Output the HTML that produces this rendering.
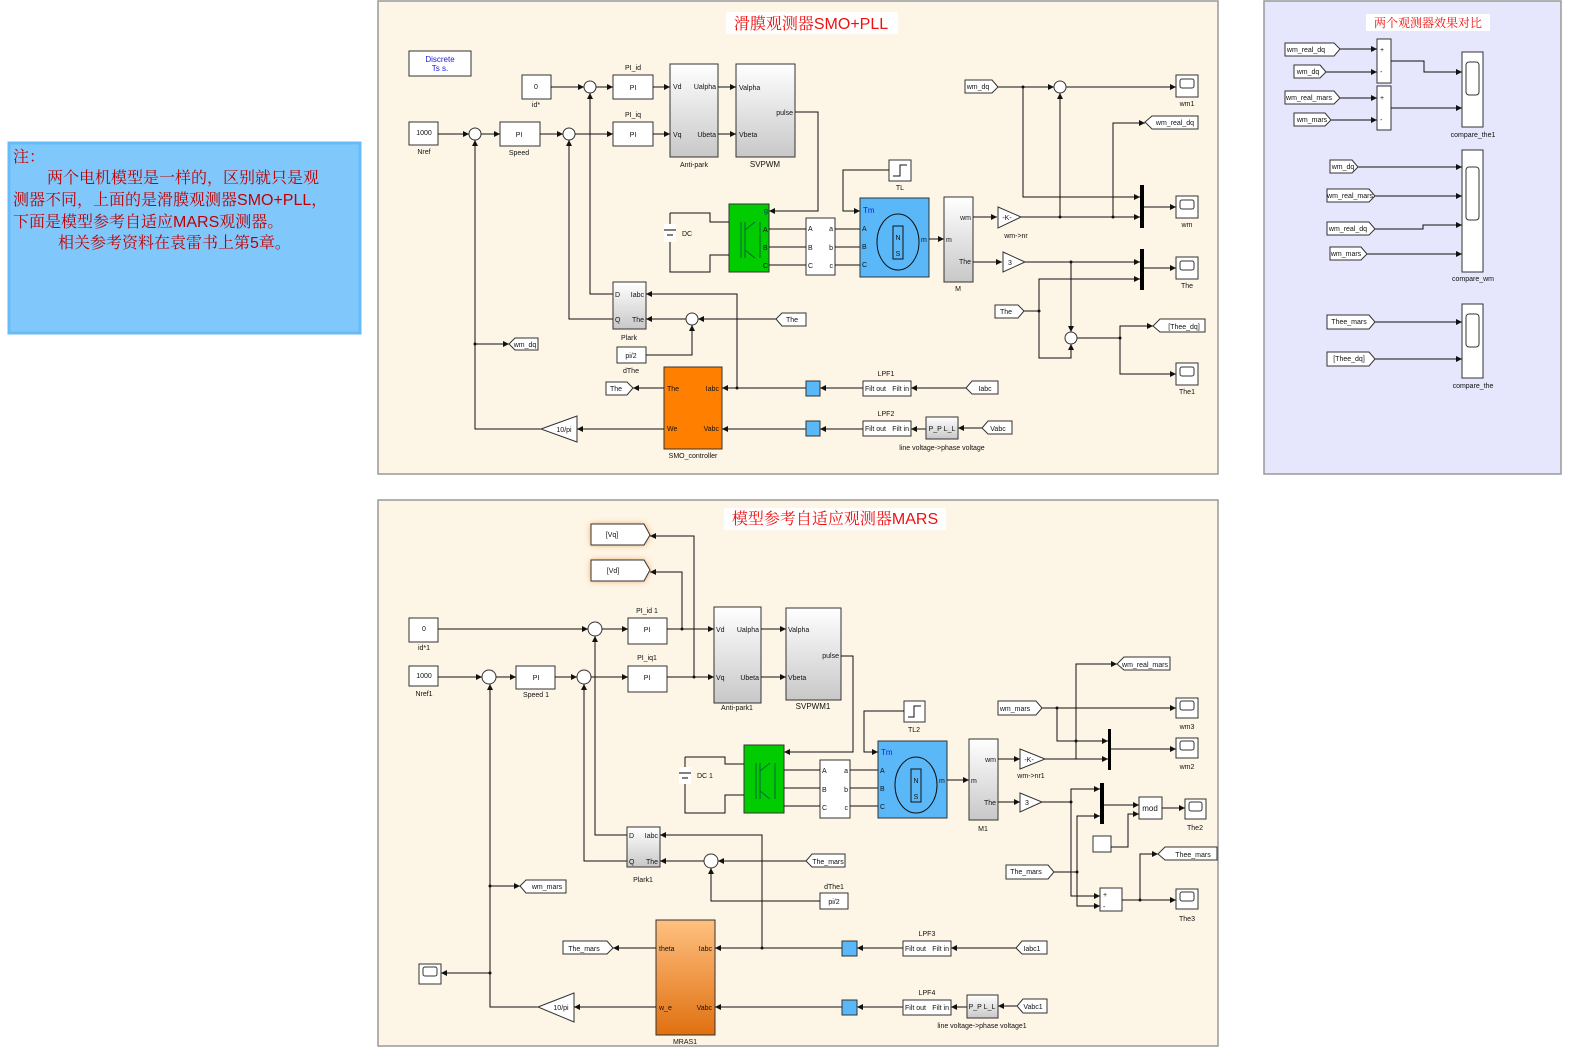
<!DOCTYPE html>
<html><head><meta charset="utf-8">
<style>
html,body{margin:0;padding:0;background:#fff;}
svg{display:block;font-family:"Liberation Sans","Noto Sans CJK SC",sans-serif;}
.b{fill:#fff;stroke:#333;stroke-width:1}
.l{fill:none;stroke:#111;stroke-width:1}
.t{font-size:7px;fill:#111}
.s{font-size:8px;fill:#111}
.c{text-anchor:middle}
.tag{fill:#fff;stroke:#333;stroke-width:1}
</style></head><body>
<svg width="1575" height="1057" viewBox="0 0 1575 1057" xmlns="http://www.w3.org/2000/svg">
<defs>
<marker id="a" markerWidth="6" markerHeight="6" refX="6" refY="3" orient="auto" markerUnits="userSpaceOnUse"><path d="M0,0 L6,3 L0,6 z" fill="#111"/></marker>
<linearGradient id="g" x1="0" y1="0" x2="0" y2="1"><stop offset="0" stop-color="#fff"/><stop offset="1" stop-color="#c8c8c8"/></linearGradient>
<linearGradient id="o" x1="0" y1="0" x2="0" y2="1"><stop offset="0" stop-color="#ffc080"/><stop offset="1" stop-color="#e07010"/></linearGradient>
<filter id="glow" x="-30%" y="-50%" width="160%" height="200%"><feGaussianBlur stdDeviation="3"/></filter>
</defs>

<!-- Note -->
<rect x="9" y="143" width="351" height="190" fill="#80c8fc" stroke="#66bbf8" stroke-width="3"/>
<g font-family="Liberation Serif,'Noto Serif CJK SC',serif" font-size="16" fill="#c00000">
<text x="13" y="162">注：</text>
<text x="47" y="183">两个电机模型是一样的，区别就只是观</text>
<text x="13" y="205">测器不同，上面的是滑膜观测器<tspan font-family="Liberation Sans">SMO+PLL</tspan>，</text>
<text x="13" y="227">下面是模型参考自适应<tspan font-family="Liberation Sans">MARS</tspan>观测器。</text>
<text x="58" y="248">相关参考资料在袁雷书上第<tspan font-family="Liberation Sans">5</tspan>章。</text>
</g>

<!-- TOP PANEL -->
<rect x="378" y="1" width="840" height="473" fill="#fdf5e6" stroke="#999" stroke-width="1.5"/>
<rect x="726" y="12" width="172" height="22" fill="#fff"/>
<text x="811" y="29" font-size="16" fill="#f01010" class="c" font-family="Liberation Serif,'Noto Serif CJK SC',serif">滑膜观测器<tspan font-family="Liberation Sans">SMO+PLL</tspan></text>

<rect x="409" y="51" width="62" height="25" class="b"/>
<text x="440" y="62" class="s c" fill="#2020e0" style="fill:#2020e0">Discrete</text>
<text x="440" y="71" class="s c" style="fill:#2020e0">Ts s.</text>

<rect x="522" y="75" width="29" height="24" class="b"/><text x="536" y="89" class="t c">0</text><text x="536" y="107" class="t c">id*</text>
<rect x="409" y="122" width="29" height="23" class="b"/><text x="424" y="135" class="t c">1000</text><text x="424" y="154" class="t c">Nref</text>
<circle cx="475" cy="134" r="6" class="b"/><circle cx="569" cy="134" r="6" class="b"/><circle cx="590" cy="87" r="6" class="b"/>
<rect x="500" y="122" width="40" height="24" class="b"/><text x="519" y="137" class="t c">PI</text><text x="519" y="155" class="t c">Speed</text>
<rect x="613" y="75" width="40" height="24" class="b"/><text x="633" y="90" class="t c">PI</text><text x="633" y="70" class="t c">PI_id</text>
<rect x="613" y="122" width="40" height="24" class="b"/><text x="633" y="137" class="t c">PI</text><text x="633" y="117" class="t c">PI_iq</text>
<rect x="670" y="64" width="48" height="93" fill="url(#g)" stroke="#333"/>
<text x="673" y="89" class="t">Vd</text><text x="673" y="137" class="t">Vq</text><text x="716" y="89" class="t" text-anchor="end">Ualpha</text><text x="716" y="137" class="t" text-anchor="end">Ubeta</text>
<text x="694" y="167" class="t c">Anti-park</text>
<rect x="736" y="64" width="59" height="93" fill="url(#g)" stroke="#333"/>
<text x="739" y="90" class="t">Valpha</text><text x="739" y="137" class="t">Vbeta</text><text x="793" y="115" class="t" text-anchor="end">pulse</text>
<text x="765" y="167" class="s c">SVPWM</text>
<g class="l">
<path d="M438,134 H469" marker-end="url(#a)"/><path d="M481,134 H500" marker-end="url(#a)"/>
<path d="M540,134 H563" marker-end="url(#a)"/><path d="M575,134 H613" marker-end="url(#a)"/>
<path d="M551,87 H584" marker-end="url(#a)"/><path d="M596,87 H613" marker-end="url(#a)"/>
<path d="M653,87 H670" marker-end="url(#a)"/><path d="M653,134 H670" marker-end="url(#a)"/>
<path d="M718,87 H736" marker-end="url(#a)"/><path d="M718,134 H736" marker-end="url(#a)"/>
<path d="M795,112 H818 V211 H769" marker-end="url(#a)"/>
<path d="M613,294 H590 V93" marker-end="url(#a)"/>
<path d="M613,319 H569 V140" marker-end="url(#a)"/>
<path d="M541,429 H475 V140" marker-end="url(#a)"/>
<path d="M475,344 H509" marker-end="url(#a)"/>
</g>
<polygon points="509,344 515,338 538,338 538,350 515,350" class="tag"/><text x="525" y="347" class="t c">wm_dq</text>

<!-- inverter & DC -->
<rect x="729" y="204" width="40" height="68" fill="#00cc00" stroke="#333"/>
<path d="M741,222 V258 M745,222 V258 M745,230 L755,222 M745,250 L755,258 M760,222 V258" stroke="#063" fill="none"/>
<text x="764" y="213" class="t" style="fill:#036">g</text><text x="763" y="232" class="t">A</text><text x="763" y="250" class="t">B</text><text x="763" y="268" class="t">C</text>
<path d="M670,213 V225 M670,241 V272 H710 V255 H729 M670,213 H710 V222 H729" class="l"/>
<rect x="664" y="224" width="12" height="18" fill="#fff"/><path d="M664,230 H676 M667,235 H673" stroke="#000"/>
<text x="682" y="236" class="t">DC</text>
<rect x="806" y="218" width="29" height="57" class="b"/>
<text x="808" y="231" class="t">A</text><text x="808" y="250" class="t">B</text><text x="808" y="268" class="t">C</text>
<text x="833" y="231" class="t" text-anchor="end">a</text><text x="833" y="250" class="t" text-anchor="end">b</text><text x="833" y="268" class="t" text-anchor="end">c</text>
<path d="M769,229 H806 M769,247 H806 M769,265 H806 M835,229 H860 M835,247 H860 M835,265 H860" class="l"/>
<rect x="860" y="198" width="69" height="79" fill="#5ab8f8" stroke="#333"/>
<ellipse cx="898" cy="242" rx="21" ry="28" fill="#5ab8f8" stroke="#111"/>
<rect x="893" y="226" width="10" height="33" fill="#5ab8f8" stroke="#111"/><text x="898" y="240" class="t c">N</text><text x="898" y="256" class="t c">S</text>
<text x="863" y="213" font-size="8" fill="#1020e0">Tm</text><text x="862" y="231" class="t">A</text><text x="862" y="249" class="t">B</text><text x="862" y="267" class="t">C</text><text x="921" y="242" class="t">m</text>
<rect x="889" y="160" width="22" height="21" class="b"/><path d="M893,176 H900 V165 H907" class="l"/><text x="900" y="190" class="t c">TL</text>
<path d="M889,170 H843 V211 H860" class="l" marker-end="url(#a)"/>
<path d="M929,239 H944" class="l" marker-end="url(#a)"/>
<rect x="944" y="197" width="29" height="85" fill="url(#g)" stroke="#333"/>
<text x="946" y="242" class="t">m</text><text x="971" y="220" class="t" text-anchor="end">wm</text><text x="971" y="264" class="t" text-anchor="end">The</text><text x="958" y="291" class="t c">M</text>
<polygon points="998,207 1021,217 998,228" class="b"/><text x="1007" y="220" class="t c">-K-</text><text x="1016" y="238" class="t c">wm-&gt;nr</text>
<polygon points="1003,252 1025,262 1003,272" class="b"/><text x="1010" y="265" class="t c">3</text>
<rect x="1140" y="185" width="4" height="43" fill="#000"/><rect x="1140" y="249" width="4" height="41" fill="#000"/>
<g class="l">
<path d="M973,217 H997" marker-end="url(#a)"/><path d="M973,262 H1002" marker-end="url(#a)"/>
<path d="M1021,217 H1140" marker-end="url(#a)"/>
<path d="M998,87 H1054" marker-end="url(#a)"/><path d="M1066,87 H1176" marker-end="url(#a)"/>
<path d="M1023,87 V197 H1140" marker-end="url(#a)"/>
<path d="M1060,217 V93" marker-end="url(#a)"/>
<path d="M1113,217 V123 H1145" marker-end="url(#a)"/>
<path d="M1144,207 H1176" marker-end="url(#a)"/>
<path d="M1025,262 H1140" marker-end="url(#a)"/>
<path d="M1071,262 V332" marker-end="url(#a)"/>
<path d="M1024,311 H1039 V279 H1140" marker-end="url(#a)"/>
<path d="M1039,311 V358 H1071 V344" marker-end="url(#a)"/>
<path d="M1144,268 H1176" marker-end="url(#a)"/>
<path d="M1077,338 H1120 V326 H1153" marker-end="url(#a)"/>
<path d="M1120,338 V374 H1176" marker-end="url(#a)"/>
</g>
<g fill="#111"><circle cx="1023" cy="87" r="1.5"/><circle cx="1060" cy="217" r="1.5"/><circle cx="1113" cy="217" r="1.5"/><circle cx="1071" cy="262" r="1.5"/><circle cx="1039" cy="311" r="1.5"/><circle cx="1120" cy="338" r="1.5"/><circle cx="475" cy="344" r="1.5"/><circle cx="737" cy="388" r="1.5"/></g>
<circle cx="1060" cy="87" r="6" class="b"/><circle cx="1071" cy="338" r="6" class="b"/>
<polygon points="965,80 992,80 998,87 992,93 965,93" class="tag"/><text x="978" y="89" class="t c">wm_dq</text>
<polygon points="1145,122 1152,116 1198,116 1198,129 1152,129" class="tag"/><text x="1175" y="125" class="t c">wm_real_dq</text>
<polygon points="995,305 1018,305 1024,311 1018,318 995,318" class="tag"/><text x="1006" y="314" class="t c">The</text>
<polygon points="1153,326 1160,319 1205,319 1205,332 1160,332" class="tag"/><text x="1184" y="329" class="t c">[Thee_dq]</text>
<g class="b"><rect x="1176" y="75" width="22" height="22"/><rect x="1176" y="196" width="22" height="22"/><rect x="1176" y="257" width="22" height="22"/><rect x="1176" y="363" width="22" height="22"/></g>
<g fill="none" stroke="#333"><rect x="1180" y="79" width="14" height="9" rx="2"/><rect x="1180" y="200" width="14" height="9" rx="2"/><rect x="1180" y="261" width="14" height="9" rx="2"/><rect x="1180" y="367" width="14" height="9" rx="2"/></g>
<text x="1187" y="106" class="t c">wm1</text><text x="1187" y="227" class="t c">wm</text><text x="1187" y="288" class="t c">The</text><text x="1187" y="394" class="t c">The1</text>

<!-- Plark and SMO -->
<rect x="613" y="282" width="33" height="47" fill="url(#g)" stroke="#333"/>
<text x="615" y="297" class="t">D</text><text x="615" y="322" class="t">Q</text><text x="644" y="297" class="t" text-anchor="end">Iabc</text><text x="644" y="322" class="t" text-anchor="end">The</text><text x="629" y="340" class="t c">Plark</text>
<circle cx="692" cy="319" r="6" class="b"/>
<rect x="617" y="347" width="29" height="16" class="b"/><text x="631" y="358" class="t c">pi/2</text><text x="631" y="373" class="t c">dThe</text>
<polygon points="806,313 782,313 776,319 782,326 806,326" class="tag"/><text x="792" y="322" class="t c">The</text>
<rect x="664" y="367" width="58" height="82" fill="#ff8000" stroke="#333"/>
<text x="667" y="391" class="t">The</text><text x="667" y="431" class="t">We</text><text x="719" y="391" class="t" text-anchor="end">Iabc</text><text x="719" y="431" class="t" text-anchor="end">Vabc</text>
<text x="693" y="458" class="t c">SMO_controller</text>
<polygon points="606,382 627,382 633,388 627,395 606,395" class="tag"/><text x="616" y="391" class="t c">The</text>
<polygon points="541,429 577,416 577,442" class="b"/><text x="564" y="432" class="t c">10/pi</text>
<g class="l">
<path d="M776,319 H698" marker-end="url(#a)"/><path d="M686,319 H646" marker-end="url(#a)"/>
<path d="M646,355 H692 V325" marker-end="url(#a)"/>
<path d="M737,388 V294 H646" marker-end="url(#a)"/>
<path d="M806,388 H722" marker-end="url(#a)"/><path d="M806,429 H722" marker-end="url(#a)"/>
<path d="M664,388 H633" marker-end="url(#a)"/><path d="M664,429 H577" marker-end="url(#a)"/>
<path d="M863,388 H820" marker-end="url(#a)"/><path d="M863,429 H820" marker-end="url(#a)"/>
<path d="M966,388 H911" marker-end="url(#a)"/><path d="M926,429 H911" marker-end="url(#a)"/>
<path d="M982,428 H958" marker-end="url(#a)"/>
</g>
<rect x="806" y="381" width="14" height="15" fill="#5ab8f8" stroke="#333"/><rect x="806" y="421" width="14" height="15" fill="#5ab8f8" stroke="#333"/>
<rect x="863" y="381" width="48" height="15" class="b"/><text x="865" y="391" class="t">Filt out</text><text x="909" y="391" class="t" text-anchor="end">Filt in</text><text x="886" y="376" class="t c">LPF1</text>
<rect x="863" y="421" width="48" height="15" class="b"/><text x="865" y="431" class="t">Filt out</text><text x="909" y="431" class="t" text-anchor="end">Filt in</text><text x="886" y="416" class="t c">LPF2</text>
<rect x="926" y="417" width="32" height="22" fill="url(#g)" stroke="#333"/><text x="942" y="431" class="t c">P_P  L_L</text>
<text x="942" y="450" class="t c">line voltage-&gt;phase voltage</text>
<polygon points="998,381 972,381 966,388 972,394 998,394" class="tag"/><text x="985" y="391" class="t c">Iabc</text>
<polygon points="1012,421 988,421 982,428 988,434 1012,434" class="tag"/><text x="998" y="431" class="t c">Vabc</text>

<!-- RIGHT PANEL -->
<rect x="1264" y="1" width="297" height="473" fill="#e6e6fc" stroke="#999" stroke-width="1.5"/>
<rect x="1366" y="14" width="124" height="17" fill="#fff"/>
<text x="1428" y="27" font-size="12" fill="#f01010" class="c" font-family="Liberation Serif,'Noto Serif CJK SC',serif">两个观测器效果对比</text>
<rect x="1377" y="39" width="14" height="44" class="b"/><rect x="1377" y="86" width="14" height="44" class="b"/>
<text x="1380" y="52" class="t">+</text><text x="1380" y="74" class="t">-</text><text x="1380" y="100" class="t">+</text><text x="1380" y="122" class="t">-</text>
<rect x="1462" y="52" width="21" height="75" class="b"/><rect x="1466" y="62" width="13" height="33" rx="3" fill="#fff" stroke="#333"/>
<rect x="1462" y="150" width="21" height="122" class="b"/><rect x="1466" y="167" width="13" height="53" rx="3" fill="#fff" stroke="#333"/>
<rect x="1462" y="304" width="21" height="74" class="b"/><rect x="1466" y="314" width="13" height="33" rx="3" fill="#fff" stroke="#333"/>
<text x="1473" y="137" class="t c">compare_the1</text><text x="1473" y="281" class="t c">compare_wm</text><text x="1473" y="388" class="t c">compare_the</text>
<g class="l">
<path d="M1340,49 H1377" marker-end="url(#a)"/><path d="M1326,72 H1377" marker-end="url(#a)"/>
<path d="M1340,98 H1377" marker-end="url(#a)"/><path d="M1331,120 H1377" marker-end="url(#a)"/>
<path d="M1391,61 H1424 V72 H1462" marker-end="url(#a)"/><path d="M1391,108 H1462" marker-end="url(#a)"/>
<path d="M1358,167 H1462" marker-end="url(#a)"/><path d="M1375,196 H1462" marker-end="url(#a)"/>
<path d="M1375,229 H1423 V225 H1462" marker-end="url(#a)"/><path d="M1367,254 H1462" marker-end="url(#a)"/>
<path d="M1375,322 H1462" marker-end="url(#a)"/><path d="M1375,359 H1462" marker-end="url(#a)"/>
</g>
<polygon points="1285,43 1334,43 1340,49 1334,56 1285,56" class="tag"/><text x="1306" y="52" class="t c">wm_real_dq</text>
<polygon points="1294,65 1320,65 1326,72 1320,78 1294,78" class="tag"/><text x="1308" y="74" class="t c">wm_dq</text>
<polygon points="1285,91 1334,91 1340,98 1334,104 1285,104" class="tag"/><text x="1309" y="100" class="t c">wm_real_mars</text>
<polygon points="1294,113 1325,113 1331,120 1325,126 1294,126" class="tag"/><text x="1312" y="122" class="t c">wm_mars</text>
<polygon points="1330,160 1352,160 1358,167 1352,173 1330,173" class="tag"/><text x="1343" y="169" class="t c">wm_dq</text>
<polygon points="1327,189 1369,189 1375,196 1369,202 1327,202" class="tag"/><text x="1350" y="198" class="t c">wm_real_mars</text>
<polygon points="1327,222 1369,222 1375,229 1369,235 1327,235" class="tag"/><text x="1348" y="231" class="t c">wm_real_dq</text>
<polygon points="1330,247 1361,247 1367,254 1361,260 1330,260" class="tag"/><text x="1346" y="256" class="t c">wm_mars</text>
<polygon points="1327,315 1369,315 1375,322 1369,329 1327,329" class="tag"/><text x="1349" y="324" class="t c">Thee_mars</text>
<polygon points="1327,352 1369,352 1375,359 1369,366 1327,366" class="tag"/><text x="1349" y="361" class="t c">[Thee_dq]</text>

<!-- BOTTOM PANEL -->
<rect x="378" y="500" width="840" height="546" fill="#fdf5e6" stroke="#999" stroke-width="1.5"/>
<rect x="724" y="508" width="222" height="22" fill="#fff"/>
<text x="835" y="524" font-size="16" fill="#f01010" class="c" font-family="Liberation Serif,'Noto Serif CJK SC',serif">模型参考自适应观测器<tspan font-family="Liberation Sans">MARS</tspan></text>
<g filter="url(#glow)" fill="#f0a050"><polygon points="591,524 644,524 650,535 644,545 591,545"/><polygon points="591,560 644,560 650,570 644,581 591,581"/></g>
<polygon points="591,524 644,524 650,535 644,545 591,545" class="tag"/><text x="612" y="537" class="t c">[Vq]</text>
<polygon points="591,560 644,560 650,570 644,581 591,581" class="tag"/><text x="613" y="573" class="t c">[Vd]</text>
<rect x="409" y="618" width="29" height="24" class="b"/><text x="424" y="631" class="t c">0</text><text x="424" y="650" class="t c">id*1</text>
<rect x="409" y="666" width="29" height="20" class="b"/><text x="424" y="678" class="t c">1000</text><text x="424" y="696" class="t c">Nref1</text>
<circle cx="595" cy="629" r="7" class="b"/><circle cx="489" cy="677" r="7" class="b"/><circle cx="584" cy="677" r="7" class="b"/>
<rect x="516" y="666" width="39" height="23" class="b"/><text x="536" y="680" class="t c">PI</text><text x="536" y="697" class="t c">Speed 1</text>
<rect x="628" y="618" width="39" height="26" class="b"/><text x="647" y="632" class="t c">PI</text><text x="647" y="613" class="t c">PI_id 1</text>
<rect x="628" y="666" width="39" height="26" class="b"/><text x="647" y="680" class="t c">PI</text><text x="647" y="660" class="t c">PI_iq1</text>
<rect x="714" y="607" width="47" height="96" fill="url(#g)" stroke="#333"/>
<text x="716" y="632" class="t">Vd</text><text x="716" y="680" class="t">Vq</text><text x="759" y="632" class="t" text-anchor="end">Ualpha</text><text x="759" y="680" class="t" text-anchor="end">Ubeta</text><text x="737" y="710" class="t c">Anti-park1</text>
<rect x="786" y="608" width="55" height="92" fill="url(#g)" stroke="#333"/>
<text x="788" y="632" class="t">Valpha</text><text x="788" y="680" class="t">Vbeta</text><text x="839" y="658" class="t" text-anchor="end">pulse</text><text x="813" y="709" class="s c">SVPWM1</text>
<g class="l">
<path d="M438,629 H588" marker-end="url(#a)"/><path d="M602,629 H628" marker-end="url(#a)"/>
<path d="M438,677 H482" marker-end="url(#a)"/><path d="M496,677 H516" marker-end="url(#a)"/>
<path d="M555,677 H577" marker-end="url(#a)"/><path d="M591,677 H628" marker-end="url(#a)"/>
<path d="M667,629 H714" marker-end="url(#a)"/><path d="M667,677 H714" marker-end="url(#a)"/>
<path d="M761,629 H786" marker-end="url(#a)"/><path d="M761,677 H786" marker-end="url(#a)"/>
<path d="M682,629 V572 H650" marker-end="url(#a)"/><path d="M694,677 V536 H650" marker-end="url(#a)"/>
<path d="M841,656 H853 V752 H784" marker-end="url(#a)"/>
<path d="M627,835 H595 V636" marker-end="url(#a)"/>
<path d="M627,861 H584 V684" marker-end="url(#a)"/>
<path d="M538,1007 H490 V684" marker-end="url(#a)"/>
<path d="M490,886 H520" marker-end="url(#a)"/>
<path d="M490,973 H441" marker-end="url(#a)"/>
</g>
<g fill="#111"><circle cx="682" cy="629" r="1.5"/><circle cx="694" cy="677" r="1.5"/><circle cx="490" cy="886" r="1.5"/><circle cx="490" cy="973" r="1.5"/><circle cx="762" cy="948" r="1.5"/><circle cx="1057" cy="708" r="1.5"/><circle cx="1076" cy="741" r="1.5"/><circle cx="1071" cy="802" r="1.5"/><circle cx="1077" cy="872" r="1.5"/><circle cx="1140" cy="900" r="1.5"/></g>
<polygon points="520,886 526,880 566,880 566,893 526,893" class="tag"/><text x="547" y="889" class="t c">wm_mars</text>
<!-- inverter bottom -->
<rect x="744" y="745" width="40" height="68" fill="#00cc00" stroke="#333"/>
<path d="M756,763 V799 M760,763 V799 M760,771 L770,763 M760,791 L770,799 M775,763 V799" stroke="#063" fill="none"/>
<path d="M685,757 V768 M685,783 V813 H725 V795 H744 M685,757 H725 V764 H744" class="l"/>
<rect x="679" y="767" width="12" height="17" fill="#fff"/><path d="M679,773 H691 M682,778 H688" stroke="#000"/>
<text x="697" y="778" class="t">DC 1</text>
<rect x="820" y="760" width="30" height="58" class="b"/>
<text x="822" y="773" class="t">A</text><text x="822" y="792" class="t">B</text><text x="822" y="810" class="t">C</text>
<text x="848" y="773" class="t" text-anchor="end">a</text><text x="848" y="792" class="t" text-anchor="end">b</text><text x="848" y="810" class="t" text-anchor="end">c</text>
<path d="M784,770 H820 M784,788 H820 M784,806 H820 M850,770 H878 M850,788 H878 M850,806 H878" class="l"/>
<rect x="878" y="741" width="69" height="77" fill="#5ab8f8" stroke="#333"/>
<ellipse cx="916" cy="785" rx="21" ry="28" fill="#5ab8f8" stroke="#111"/>
<rect x="911" y="769" width="10" height="33" fill="#5ab8f8" stroke="#111"/><text x="916" y="783" class="t c">N</text><text x="916" y="799" class="t c">S</text>
<text x="881" y="755" font-size="8" fill="#1020e0">Tm</text><text x="880" y="773" class="t">A</text><text x="880" y="791" class="t">B</text><text x="880" y="809" class="t">C</text><text x="939" y="783" class="t">m</text>
<rect x="904" y="701" width="21" height="21" class="b"/><path d="M908,717 H914 V706 H921" class="l"/><text x="914" y="732" class="t c">TL2</text>
<path d="M904,711 H864 V752 H878" class="l" marker-end="url(#a)"/>
<path d="M947,780 H969" class="l" marker-end="url(#a)"/>
<rect x="969" y="739" width="29" height="81" fill="url(#g)" stroke="#333"/>
<text x="971" y="783" class="t">m</text><text x="996" y="762" class="t" text-anchor="end">wm</text><text x="996" y="805" class="t" text-anchor="end">The</text><text x="983" y="831" class="t c">M1</text>
<polygon points="1020,749 1045,759 1020,769" class="b"/><text x="1029" y="762" class="t c">-K-</text><text x="1031" y="778" class="t c">wm-&gt;nr1</text>
<polygon points="1020,793 1042,802 1020,812" class="b"/><text x="1027" y="805" class="t c">3</text>
<rect x="1108" y="729" width="3" height="41" fill="#000"/><rect x="1100" y="783" width="4" height="41" fill="#000"/>
<rect x="1139" y="797" width="23" height="22" class="b"/><text x="1150" y="811" class="s c">mod</text>
<rect x="1093" y="836" width="18" height="16" class="b"/>
<rect x="1100" y="888" width="22" height="23" class="b"/><text x="1103" y="897" class="t">+</text><text x="1103" y="909" class="t">-</text>
<g class="l">
<path d="M998,759 H1020" marker-end="url(#a)"/><path d="M998,802 H1020" marker-end="url(#a)"/>
<path d="M1045,759 H1108" marker-end="url(#a)"/>
<path d="M1076,759 V664 H1117" marker-end="url(#a)"/>
<path d="M1042,708 H1176" marker-end="url(#a)"/>
<path d="M1057,708 V741 H1108" marker-end="url(#a)"/>
<path d="M1111,749 H1176" marker-end="url(#a)"/>
<path d="M1042,802 H1071 V789 H1100" marker-end="url(#a)"/>
<path d="M1104,805 H1139" marker-end="url(#a)"/>
<path d="M1111,847 H1128 V814 H1139" marker-end="url(#a)"/>
<path d="M1162,808 H1185" marker-end="url(#a)"/>
<path d="M1054,872 H1077 V816 H1100" marker-end="url(#a)"/>
<path d="M1071,802 V896 H1100" marker-end="url(#a)"/>
<path d="M1077,872 V906 H1100" marker-end="url(#a)"/>
<path d="M1122,900 H1176" marker-end="url(#a)"/>
<path d="M1140,900 V854 H1158" marker-end="url(#a)"/>
</g>
<polygon points="1117,664 1124,657 1170,657 1170,670 1124,670" class="tag"/><text x="1145" y="667" class="t c">wm_real_mars</text>
<polygon points="998,701 1036,701 1042,708 1036,715 998,715" class="tag"/><text x="1015" y="711" class="t c">wm_mars</text>
<polygon points="1006,865 1048,865 1054,872 1048,879 1006,879" class="tag"/><text x="1026" y="874" class="t c">The_mars</text>
<polygon points="1158,854 1165,847 1217,847 1217,860 1165,860" class="tag"/><text x="1193" y="857" class="t c">Thee_mars</text>
<g class="b"><rect x="1176" y="698" width="22" height="20"/><rect x="1176" y="738" width="22" height="20"/><rect x="1185" y="799" width="21" height="20"/><rect x="1176" y="889" width="22" height="20"/><rect x="419" y="964" width="22" height="20"/></g>
<g fill="none" stroke="#333"><rect x="1180" y="701" width="14" height="9" rx="2"/><rect x="1180" y="741" width="14" height="9" rx="2"/><rect x="1189" y="802" width="13" height="9" rx="2"/><rect x="1180" y="892" width="14" height="9" rx="2"/><rect x="423" y="967" width="14" height="9" rx="2"/></g>
<text x="1187" y="729" class="t c">wm3</text><text x="1187" y="769" class="t c">wm2</text><text x="1195" y="830" class="t c">The2</text><text x="1187" y="921" class="t c">The3</text>
<!-- Plark1 / MRAS -->
<rect x="627" y="827" width="33" height="40" fill="url(#g)" stroke="#333"/>
<text x="629" y="838" class="t">D</text><text x="629" y="864" class="t">Q</text><text x="658" y="838" class="t" text-anchor="end">Iabc</text><text x="658" y="864" class="t" text-anchor="end">The</text><text x="643" y="882" class="t c">Plark1</text>
<circle cx="711" cy="861" r="7" class="b"/>
<rect x="820" y="893" width="28" height="16" class="b"/><text x="834" y="904" class="t c">pi/2</text><text x="834" y="889" class="t c">dThe1</text>
<polygon points="845,854 812,854 806,861 812,867 845,867" class="tag"/><text x="828" y="864" class="t c">The_mars</text>
<rect x="656" y="920" width="59" height="115" fill="url(#o)" stroke="#333"/>
<text x="659" y="951" class="t">theta</text><text x="659" y="1010" class="t">w_e</text><text x="712" y="951" class="t" text-anchor="end">Iabc</text><text x="712" y="1010" class="t" text-anchor="end">Vabc</text>
<text x="685" y="1044" class="t c">MRAS1</text>
<polygon points="563,941 607,941 613,948 607,954 563,954" class="tag"/><text x="584" y="951" class="t c">The_mars</text>
<polygon points="538,1007 574,993 574,1022" class="b"/><text x="561" y="1010" class="t c">10/pi</text>
<g class="l">
<path d="M806,861 H718" marker-end="url(#a)"/><path d="M704,861 H660" marker-end="url(#a)"/>
<path d="M820,901 H711 V868" marker-end="url(#a)"/>
<path d="M762,948 V835 H660" marker-end="url(#a)"/>
<path d="M842,948 H715" marker-end="url(#a)"/><path d="M842,1007 H715" marker-end="url(#a)"/>
<path d="M656,948 H613" marker-end="url(#a)"/><path d="M656,1007 H574" marker-end="url(#a)"/>
<path d="M903,948 H857" marker-end="url(#a)"/><path d="M903,1007 H857" marker-end="url(#a)"/>
<path d="M1016,948 H951" marker-end="url(#a)"/><path d="M967,1007 H951" marker-end="url(#a)"/>
<path d="M1017,1006 H998" marker-end="url(#a)"/>
</g>
<rect x="842" y="941" width="15" height="15" fill="#5ab8f8" stroke="#333"/><rect x="842" y="1000" width="15" height="15" fill="#5ab8f8" stroke="#333"/>
<rect x="903" y="941" width="48" height="15" class="b"/><text x="905" y="951" class="t">Filt out</text><text x="949" y="951" class="t" text-anchor="end">Filt in</text><text x="927" y="936" class="t c">LPF3</text>
<rect x="903" y="1000" width="48" height="15" class="b"/><text x="905" y="1010" class="t">Filt out</text><text x="949" y="1010" class="t" text-anchor="end">Filt in</text><text x="927" y="995" class="t c">LPF4</text>
<rect x="967" y="995" width="31" height="23" fill="url(#g)" stroke="#333"/><text x="982" y="1009" class="t c">P_P  L_L</text>
<text x="982" y="1028" class="t c">line voltage-&gt;phase voltage1</text>
<polygon points="1047,941 1022,941 1016,948 1022,954 1047,954" class="tag"/><text x="1032" y="951" class="t c">Iabc1</text>
<polygon points="1047,999 1023,999 1017,1006 1023,1013 1047,1013" class="tag"/><text x="1033" y="1009" class="t c">Vabc1</text>
</svg>
</body></html>
